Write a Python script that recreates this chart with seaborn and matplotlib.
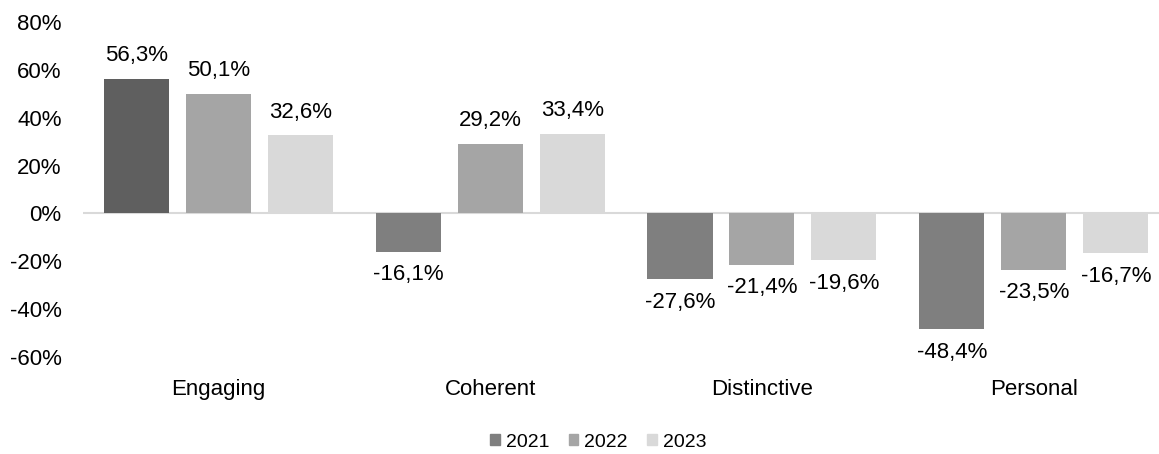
import pandas as pd
import seaborn as sns
import matplotlib.pyplot as plt

# data
categories = ["Engaging", "Coherent", "Distinctive", "Personal"]
years = ["2021", "2022", "2023"]
vals_2021 = [56.3, -16.1, -27.6, -48.4]
vals_2022 = [50.1, 29.2, -21.4, -23.5]
vals_2023 = [32.6, 33.4, -19.6, -16.7]
colors = ["#7f7f7f", "#a5a5a5", "#d9d9d9"]

df = pd.DataFrame({
    "category": categories * 3,
    "year": [y for y in years for _ in categories],
    "value": vals_2021 + vals_2022 + vals_2023,
})

sns.set_style("white")
plt.rcParams["font.family"] = ["Liberation Sans", "DejaVu Sans"]
plt.rcParams["text.color"] = "black"
plt.rcParams["xtick.color"] = "black"
plt.rcParams["ytick.color"] = "black"

fig = plt.figure(figsize=(11.59, 4.54), dpi=100)
ax = fig.add_axes([0.0712, 0.2137, 0.938, 0.7378])

sns.barplot(data=df, x="category", y="value", hue="year", order=categories,
            hue_order=years, palette=colors, width=0.905, gap=0.207,
            errorbar=None, linewidth=0, ax=ax)

# the first 2021 bar is a darker shade in the original
ax.containers[0][0].set_facecolor("#5f5f5f")

for cont, vals in zip(ax.containers, [vals_2021, vals_2022, vals_2023]):
    labels = [f"{v:.1f}%".replace(".", ",") for v in vals]
    ax.bar_label(cont, labels=labels, padding=9, fontsize=16, color="black")

ax.set_ylim(-60, 80)
ax.set_yticks(range(-60, 81, 20))
ax.set_yticklabels([f"{t}%" for t in range(-60, 81, 20)])
ax.axhline(0, color="#d9d9d9", linewidth=1.5, zorder=0)
ax.set_xlabel("")
ax.set_ylabel("")
sns.despine(ax=ax, left=True, bottom=True)
ax.tick_params(axis="y", length=0, pad=15, labelsize=16, labelcolor="black")
ax.tick_params(axis="x", length=0, pad=16, labelsize=16, labelcolor="black")

ax.get_legend().remove()
handles = [plt.Rectangle((0, 0), 1, 1, color=c) for c in colors]
fig.legend(handles, years, loc="center", bbox_to_anchor=(0.516, 0.026),
           ncol=3, frameon=False, fontsize=14, handlelength=0.5,
           handleheight=0.5, handletextpad=0.3, columnspacing=1.0,
           labelcolor="black")

plt.savefig("out.png", dpi=100)
